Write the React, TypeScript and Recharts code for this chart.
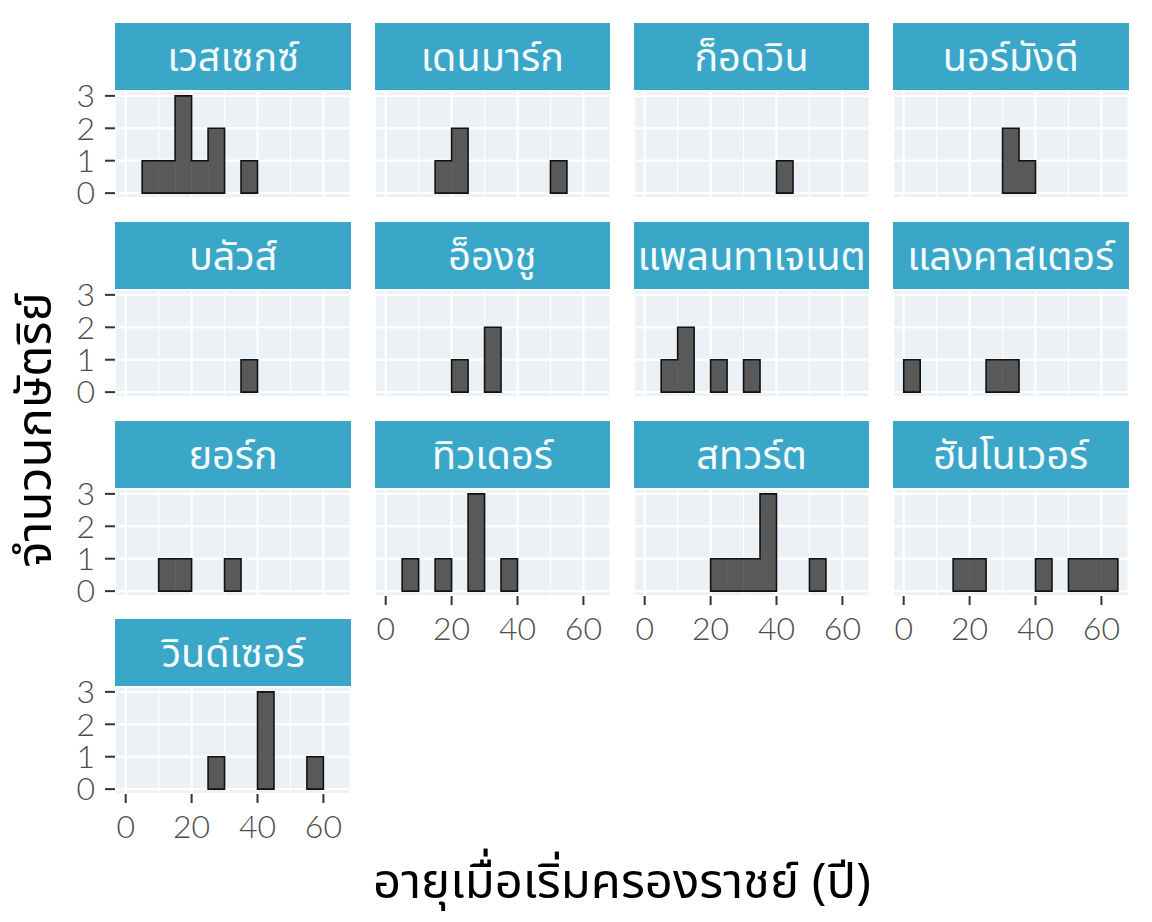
import React from "react";
import { BarChart, Bar, XAxis, YAxis, CartesianGrid } from "recharts";

// age bins of 5 years, 0-65
const BIN_STARTS = [0, 5, 10, 15, 20, 25, 30, 35, 40, 45, 50, 55, 60];
const X_TICKS = [0, 20, 40, 60];
const X_MINOR = [10, 30, 50];
const Y_TICKS = [0, 1, 2, 3];
const Y_MINOR = [0.5, 1.5, 2.5];

const HOUSES = [
  "เวสเซกซ์", "เดนมาร์ก", "ก็อดวิน", "นอร์มังดี",
  "บลัวส์", "อ็องชู", "แพลนทาเจเนต", "แลงคาสเตอร์",
  "ยอร์ก", "ทิวเดอร์", "สทวร์ต", "ฮันโนเวอร์",
  "วินด์เซอร์",
];

const wessex = [0, 1, 1, 3, 1, 2, 0, 1, 0, 0, 0, 0, 0];
const denmark = [0, 0, 0, 1, 2, 0, 0, 0, 0, 0, 1, 0, 0];
const godwin = [0, 0, 0, 0, 0, 0, 0, 0, 1, 0, 0, 0, 0];
const normandy = [0, 0, 0, 0, 0, 0, 2, 1, 0, 0, 0, 0, 0];
const blois = [0, 0, 0, 0, 0, 0, 0, 1, 0, 0, 0, 0, 0];
const anjou = [0, 0, 0, 0, 1, 0, 2, 0, 0, 0, 0, 0, 0];
const plantagenet = [0, 1, 2, 0, 1, 0, 1, 0, 0, 0, 0, 0, 0];
const lancaster = [1, 0, 0, 0, 0, 1, 1, 0, 0, 0, 0, 0, 0];
const york = [0, 0, 1, 1, 0, 0, 1, 0, 0, 0, 0, 0, 0];
const tudor = [0, 1, 0, 1, 0, 3, 0, 1, 0, 0, 0, 0, 0];
const stuart = [0, 0, 0, 0, 1, 1, 1, 3, 0, 0, 1, 0, 0];
const hanover = [0, 0, 0, 1, 1, 0, 0, 0, 1, 0, 1, 1, 1];
const windsor = [0, 0, 0, 0, 0, 1, 0, 0, 3, 0, 0, 1, 0];

const COUNTS = [
  wessex, denmark, godwin, normandy,
  blois, anjou, plantagenet, lancaster,
  york, tudor, stuart, hanover,
  windsor,
];

const X_TITLE = "อายุเมื่อเริ่มครองราชย์ (ปี)";
const Y_TITLE = "จำนวนกษัตริย์";

// layout
const PANEL_W = 235.6;
const PANEL_H = 107;
const STRIP_H = 68;
const COL_X0 = 115.4;
const COL_STEP = 259.2;
const ROW_Y0 = 23.3;
const ROW_STEP = 198.7;
const Y_W = 60;
const X_H = 62;
const PAD = 18; // room above/below the panel for the y tick labels
const X_DOMAIN: [number, number] = [-3.25, 68.25];
const Y_DOMAIN: [number, number] = [-0.15, 3.15];
const BIN_PX = (5 * PANEL_W) / (X_DOMAIN[1] - X_DOMAIN[0]);

const PANEL_BG = "#EBF1F5";
const STRIP_BG = "#3AA6C8";
const BAR_FILL = "#595959";
const TEXT_GREY = "#4D4D4D";
const THAI_FONT = "'Noto Sans Thai', 'Noto Sans', Lato, sans-serif";

const tickStyle = { fill: TEXT_GREY, fontSize: 32, fontFamily: "Lato, sans-serif", fontWeight: 300 };

// outline only around the outside of runs of bins, like a step histogram
function makeShape(counts: number[]) {
  return (props: any) => {
    const { x, y, width, height, payload } = props;
    const i = BIN_STARTS.indexOf(payload.start);
    const c = counts[i];
    if (!c) return <g />;
    const unit = height / c;
    const left = i > 0 ? counts[i - 1] : 0;
    const right = i < counts.length - 1 ? counts[i + 1] : 0;
    let d = `M${x},${y}H${x + width}M${x},${y + height}H${x + width}`;
    if (left < c) d += `M${x},${y}V${y + (c - left) * unit}`;
    if (right < c) d += `M${x + width},${y}V${y + (c - right) * unit}`;
    const fillH = right > 0 ? Math.min(c, right) * unit : 0;
    return (
      <g>
        <rect x={x} y={y} width={width} height={height} fill={BAR_FILL} />
        {fillH > 0 && (
          <rect x={x + width - 0.4} y={y + height - fillH} width={0.8} height={fillH} fill={BAR_FILL} />
        )}
        <path d={d} stroke="#111" strokeWidth={1.6} fill="none" strokeLinecap="square" />
      </g>
    );
  };
}

function Facet({ index }: { index: number }) {
  const counts = COUNTS[index];
  const row = Math.floor(index / 4);
  const col = index % 4;
  const showY = col === 0;
  const showX = index + 4 >= COUNTS.length;
  const left = COL_X0 + col * COL_STEP;
  const top = ROW_Y0 + row * ROW_STEP;
  const data = BIN_STARTS.map((s, k) => ({ start: s, mid: s + 2.5, count: counts[k] }));

  return (
    <>
      <div
        style={{
          position: "absolute",
          left,
          top,
          width: PANEL_W,
          height: STRIP_H,
          boxSizing: "border-box",
          paddingTop: 4,
          background: STRIP_BG,
          color: "#F4FBFD",
          fontFamily: THAI_FONT,
          fontSize: 39.5,
          lineHeight: `${STRIP_H - 4}px`,
          textAlign: "center",
          whiteSpace: "nowrap",
        }}
      >
        {HOUSES[index]}
      </div>
      <div style={{ position: "absolute", left: left - (showY ? Y_W : 0), top: top + STRIP_H - PAD }}>
        <BarChart
          width={PANEL_W + (showY ? Y_W : 0)}
          height={PANEL_H + PAD + (showX ? X_H : PAD)}
          data={data}
          margin={{ top: PAD, right: 0, bottom: showX ? 0 : PAD, left: 0 }}
        >
          <XAxis
            dataKey="mid"
            type="number"
            domain={X_DOMAIN}
            ticks={X_TICKS}
            interval={0}
            allowDataOverflow
            hide={!showX}
            height={X_H}
            axisLine={false}
            tickSize={9}
            tickMargin={12}
            tickLine={{ stroke: "#333", strokeWidth: 2 }}
            tick={tickStyle}
          />
          <XAxis xAxisId="minor" dataKey="mid" type="number" domain={X_DOMAIN} ticks={X_MINOR} hide />
          <YAxis
            type="number"
            domain={Y_DOMAIN}
            ticks={Y_TICKS}
            interval={0}
            allowDataOverflow
            hide={!showY}
            width={Y_W}
            axisLine={false}
            tickSize={10}
            tickMargin={10}
            tickLine={{ stroke: "#333", strokeWidth: 2 }}
            tick={tickStyle}
          />
          <YAxis yAxisId="minor" type="number" domain={Y_DOMAIN} ticks={Y_MINOR} hide />
          <CartesianGrid fill={PANEL_BG} stroke="#fff" strokeWidth={2.2} />
          <CartesianGrid xAxisId="minor" yAxisId="minor" stroke="#fff" strokeWidth={1.2} />
          <Bar
            dataKey="count"
            barSize={BIN_PX - 0.01}
            isAnimationActive={false}
            shape={makeShape(counts)}
          />
        </BarChart>
      </div>
    </>
  );
}

export default function App() {
  return (
    <div
      style={{
        position: "absolute",
        left: 0,
        top: 0,
        width: 1152,
        height: 922,
        background: "#fff",
        overflow: "hidden",
      }}
    >
      {COUNTS.map((_, i) => (
        <Facet key={i} index={i} />
      ))}
      <div
        style={{
          position: "absolute",
          left: 36,
          top: 430,
          transform: "translate(-50%, -50%) rotate(-90deg)",
          fontFamily: THAI_FONT,
          fontSize: 49,
          color: "#000",
          whiteSpace: "nowrap",
        }}
      >
        {Y_TITLE}
      </div>
      <div
        style={{
          position: "absolute",
          left: 622,
          top: 883,
          transform: "translate(-50%, -50%)",
          fontFamily: THAI_FONT,
          fontSize: 49,
          color: "#000",
          whiteSpace: "nowrap",
        }}
      >
        {X_TITLE}
      </div>
    </div>
  );
}
